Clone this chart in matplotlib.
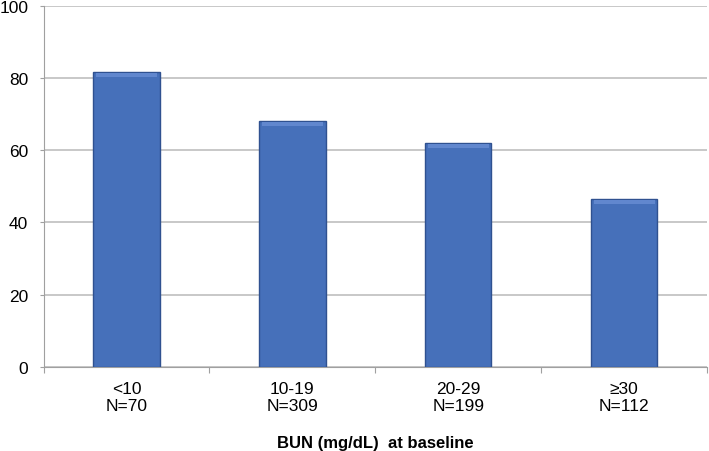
import matplotlib.pyplot as plt
import numpy as np

categories = ["<10\nN=70", "10-19\nN=309", "20-29\nN=199", "≥30\nN=112"]
values = [81.6, 68.1, 62.0, 46.5]
y_ticks = [0, 20, 40, 60, 80, 100]

plt.rcParams["font.family"] = ["Liberation Sans", "DejaVu Sans"]

fig = plt.figure(figsize=(7.09, 4.52), dpi=100)
ax = fig.add_axes([0.0614, 0.186, 0.936, 0.799])

x = np.arange(len(categories))
ax.bar(x, values, width=0.40, color="#4670BA", edgecolor="#2F5190",
       linewidth=1.0, zorder=3)
# lighter bevel strip along the top of each bar
ax.bar(x, [1.0] * len(values), bottom=np.array(values) - 1.3, width=0.37,
       color="#6187CE", linewidth=0, zorder=4)

ax.set_ylim(0, 100)
ax.set_xlim(-0.5, 3.37)
ax.set_yticks(y_ticks)
ax.yaxis.grid(True, color="#BFBFBF", linewidth=1.2, zorder=0)
ax.set_axisbelow(True)

ax.set_xticks(np.arange(-0.5, 4, 1.0))
ax.set_xticklabels([])
ax.set_xticks(x, minor=True)
ax.set_xticklabels(categories, minor=True, fontsize=12.5, linespacing=1.2)
ax.tick_params(axis="x", which="minor", length=0, pad=10)
ax.tick_params(axis="x", which="major", length=4, color="#A0A0A0")
ax.tick_params(axis="y", length=3, color="#A0A0A0", labelsize=12.5, pad=8)

for side in ["top", "right"]:
    ax.spines[side].set_visible(False)
ax.spines["left"].set_color("#A0A0A0")
ax.spines["bottom"].set_color("#A0A0A0")

ax.set_xlabel("BUN (mg/dL)  at baseline", fontsize=12, fontweight="bold",
              labelpad=16)

plt.savefig("out.png", dpi=100)
